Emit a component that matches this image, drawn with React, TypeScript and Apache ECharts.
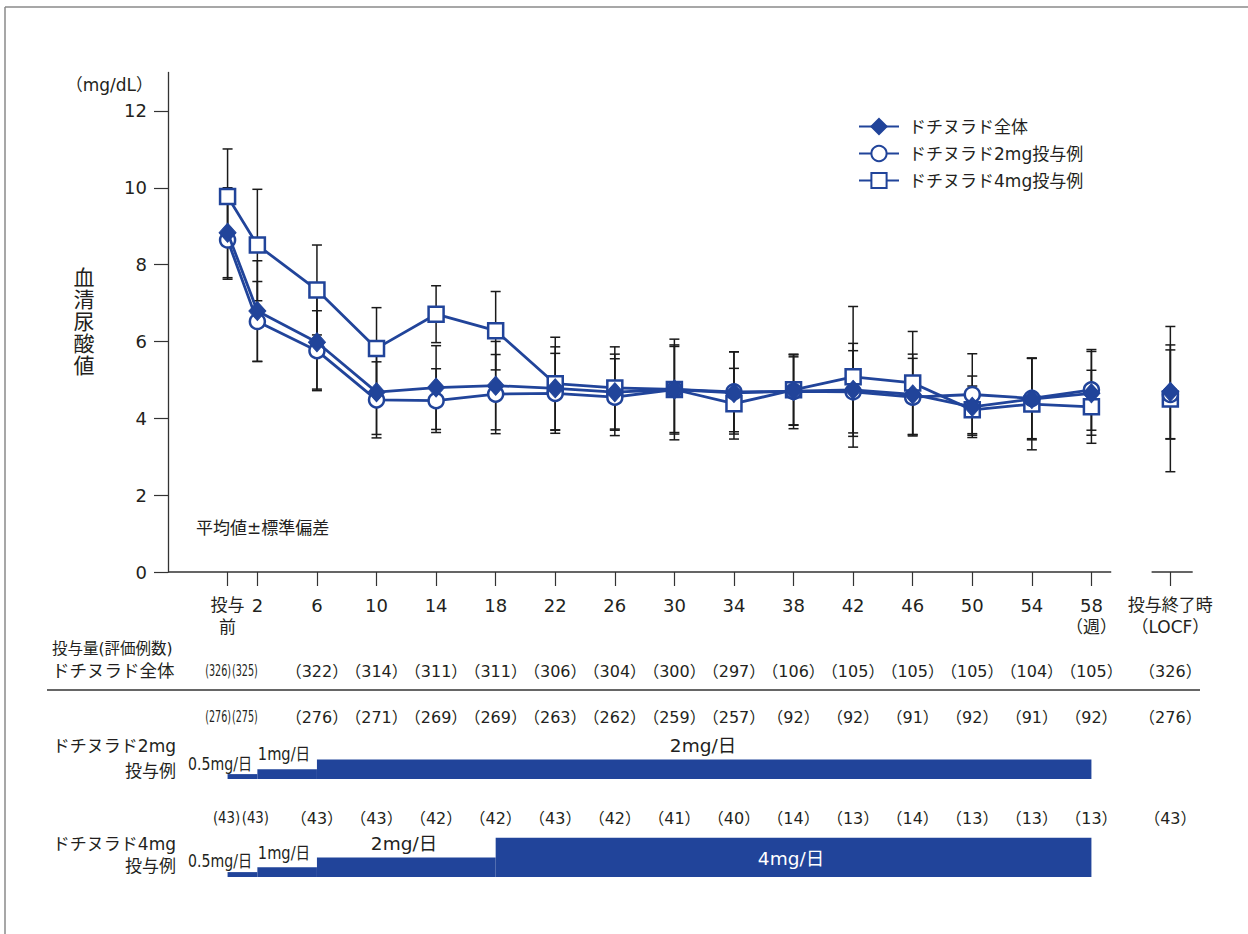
import React, { useEffect, useRef } from 'react';
import * as echarts from 'echarts';

// ---- palette & fonts ----
const BLUE = '#21449a';
const INK = '#231f20';
const AXIS = '#333333';
const FONT = "'DejaVu Sans', 'Noto Sans CJK JP', sans-serif";

// ---- time points (weeks); the last one is the end-of-treatment (LOCF) column ----
const weeks = [0, 2, 6, 10, 14, 18, 22, 26, 30, 34, 38, 42, 46, 50, 54, 58];
const locfWeek = 63.3;
const positions = [...weeks, locfWeek];
const tickLabels = [
  '投与\n前', '2', '6', '10', '14', '18', '22', '26', '30', '34', '38', '42', '46', '50', '54', '58\n（週）',
  '投与終了時\n（LOCF）',
];

// ---- serum uric acid, mean and SD (mg/dL) ----
const seriesNames = ['ドチヌラド全体', 'ドチヌラド2mg投与例', 'ドチヌラド4mg投与例'];
const allMean = [8.83, 6.79, 5.98, 4.68, 4.8, 4.85, 4.78, 4.68, 4.75, 4.66, 4.71, 4.74, 4.62, 4.3, 4.5, 4.65, 4.69];
const allSd = [1.17, 1.31, 1.22, 1.1, 1.09, 1.15, 1.08, 0.99, 1.16, 1.07, 0.89, 1.21, 1.05, 0.8, 1.06, 1.09, 1.22];
const mg2Mean = [8.64, 6.52, 5.76, 4.48, 4.46, 4.63, 4.65, 4.55, 4.75, 4.69, 4.7, 4.69, 4.55, 4.62, 4.52, 4.74, 4.62];
const mg2Sd = [1.02, 1.04, 1.04, 0.99, 0.83, 1.03, 1.04, 1.0, 1.12, 1.04, 0.97, 1.07, 1.01, 1.06, 1.05, 1.05, 1.16];
const mg4Mean = [9.77, 8.51, 7.34, 5.82, 6.71, 6.28, 4.9, 4.79, 4.75, 4.38, 4.74, 5.08, 4.92, 4.22, 4.37, 4.3, 4.5];
const mg4Sd = [1.24, 1.45, 1.17, 1.06, 0.74, 1.02, 1.21, 1.07, 1.31, 0.92, 0.91, 1.83, 1.34, 0.62, 1.19, 0.95, 1.89];

// ---- number of evaluated patients ----
const allN = [326, 325, 322, 314, 311, 311, 306, 304, 300, 297, 106, 105, 105, 105, 104, 105, 326];
const mg2N = [276, 275, 276, 271, 269, 269, 263, 262, 259, 257, 92, 92, 91, 92, 91, 92, 276];
const mg4N = [43, 43, 43, 43, 42, 42, 43, 42, 41, 40, 14, 13, 14, 13, 13, 13, 43];

// ---- titration schedules: step boundaries (weeks) and daily dose (mg) ----
const mg2Steps = [0, 2, 6, 58];
const mg2Doses = [0.5, 1, 2];
const mg4Steps = [0, 2, 6, 18, 58];
const mg4Doses = [0.5, 1, 2, 4];

const X_MIN = -4;
const X_MAX = 64.8;
const GRID_LEFT = 168;
const GRID_RIGHT = 55.3;

const lineData = (mean: number[]) => {
  const pts: any[] = positions.map((x, i) => [x, mean[i]]);
  // break the line between week 58 and the LOCF column
  return [...pts.slice(0, weeks.length), [60.5, '-'], pts[weeks.length]];
};

const errData = (mean: number[], sd: number[]) =>
  positions.map((x, i) => [x, +(mean[i] - sd[i]).toFixed(2), +(mean[i] + sd[i]).toFixed(2)]);

const stepData = (steps: number[], doses: number[]) =>
  doses.map((d, i) => [steps[i], steps[i + 1], d]);

const txt = (
  text: string,
  x: number,
  y: number,
  fontSize: number,
  align: string,
  extra: any = {},
) => {
  const { fill, lineHeight, ...props } = extra;
  return {
    type: 'text',
    x,
    y,
    z: 100,
    silent: true,
    ...props,
    style: {
      text,
      fill: fill || INK,
      fontSize,
      fontFamily: FONT,
      lineHeight,
      align,
      verticalAlign: 'middle',
      textAlign: align,
      textVerticalAlign: 'middle',
    },
  };
};

const countSeries = (n: number[], rowY: number) => ({
  type: 'custom',
  xAxisIndex: 0,
  yAxisIndex: 0,
  silent: true,
  z: 5,
  clip: false,
  data: positions.map((x, i) => [x, 0, n[i], i]),
  encode: { x: 0, y: 1 },
  renderItem: (_p: any, api: any) => {
    const cx = api.coord([api.value(0), 0])[0];
    const i = api.value(3);
    const v = api.value(2);
    const early = i < 2;
    const wide = v >= 100;
    // the first two counts sit side by side in a condensed face
    const shift = !early ? 0 : wide ? (i === 0 ? -9.5 : -12.5) : i === 0 ? -1 : -2;
    return {
      type: 'text',
      x: cx + shift,
      y: rowY,
      scaleX: early ? (wide ? 0.62 : 0.86) : 1,
      style: {
        text: early ? `(${v})` : `（${v}）`,
        fill: INK,
        fontSize: early ? 15.5 : 16,
        fontFamily: FONT,
        align: 'center',
        verticalAlign: 'middle',
        textAlign: 'center',
        textVerticalAlign: 'middle',
      },
    };
  },
});

const doseSeries = (steps: number[], doses: number[], idx: number) => ({
  type: 'custom',
  xAxisIndex: idx,
  yAxisIndex: idx,
  silent: true,
  z: 2,
  data: stepData(steps, doses),
  encode: { x: [0, 1], y: 2 },
  renderItem: (_p: any, api: any) => {
    const a = api.coord([api.value(0), api.value(2)]);
    const b = api.coord([api.value(1), 0]);
    return {
      type: 'rect',
      shape: { x: a[0], y: a[1], width: b[0] - a[0], height: b[1] - a[1] },
      style: { fill: BLUE },
    };
  },
});

const labelFor = (v: number) => {
  const i = positions.findIndex((p) => Math.abs(p - v) < 1e-6);
  if (i < 0) return '';
  return tickLabels[i]
    .split('\n')
    .map((s) => (/^\d+$/.test(s) ? s : `{j|${s}}`))
    .join('\n');
};

const yTitle = ['血', '清', '尿', '酸', '値'];

export default function App() {
  const ref = useRef<HTMLDivElement>(null);

  useEffect(() => {
    if (!ref.current) return;
    const chart = echarts.init(ref.current, undefined, { renderer: 'svg' });

    const hiddenX = (gridIndex: number) => ({
      type: 'value',
      gridIndex,
      min: X_MIN,
      max: X_MAX,
      show: false,
    });
    const hiddenY = (gridIndex: number) => ({
      type: 'value',
      gridIndex,
      min: 0,
      max: 4,
      show: false,
    });

    const baseSymbolStyle = { color: '#fff', borderColor: BLUE, borderWidth: 2.5 };

    chart.setOption({
      animation: false,
      backgroundColor: '#fff',
      textStyle: { fontFamily: FONT },
      grid: [
        { left: GRID_LEFT, right: GRID_RIGHT, top: 72.5, bottom: 362 },
        { left: GRID_LEFT, right: GRID_RIGHT, top: 739.8, height: 39.2 },
        { left: GRID_LEFT, right: GRID_RIGHT, top: 837.8, height: 39.2 },
      ],
      xAxis: [
        {
          type: 'value',
          gridIndex: 0,
          min: X_MIN,
          max: X_MAX,
          axisLine: { show: false, onZero: false },
          splitLine: { show: false },
          axisTick: {
            show: true,
            customValues: positions,
            length: 14,
            lineStyle: { color: AXIS, width: 1.2 },
          },
          axisLabel: {
            customValues: positions,
            margin: 22,
            color: INK,
            fontSize: 18,
            lineHeight: 22,
            fontFamily: FONT,
            formatter: (v: number) => labelFor(v),
            rich: {
              j: { fontSize: 17, lineHeight: 22, color: INK, fontFamily: FONT },
            },
          },
        },
        hiddenX(1),
        hiddenX(2),
      ],
      yAxis: [
        {
          type: 'value',
          gridIndex: 0,
          min: 0,
          max: 13,
          interval: 1,
          axisLine: { show: true, onZero: false, lineStyle: { color: AXIS, width: 1.3 } },
          splitLine: { show: false },
          axisTick: {
            show: true,
            customValues: [0, 2, 4, 6, 8, 10, 12],
            length: 14,
            lineStyle: { color: AXIS, width: 1.2 },
          },
          axisLabel: {
            customValues: [0, 2, 4, 6, 8, 10, 12],
            margin: 21,
            color: INK,
            fontSize: 18,
            fontFamily: FONT,
          },
        },
        hiddenY(1),
        hiddenY(2),
      ],
      legend: {
        data: seriesNames,
        orient: 'vertical',
        left: 858,
        top: 117,
        padding: 0,
        itemWidth: 40,
        itemHeight: 19,
        itemGap: 8,
        textStyle: {
          color: INK,
          fontSize: 17,
          fontFamily: FONT,
          lineHeight: 19,
          padding: [0, 0, 0, 5],
        },
      },
      graphic: [
        // outer frame
        { type: 'line', silent: true, shape: { x1: 5, y1: 7, x2: 1248, y2: 7 }, style: { stroke: '#8a8a8a', lineWidth: 1.5 } },
        { type: 'line', silent: true, shape: { x1: 5, y1: 7, x2: 5, y2: 934 }, style: { stroke: '#8a8a8a', lineWidth: 1.5 } },
        txt('（mg/dL）', 153, 85, 17, 'right'),
        ...yTitle.map((c, i) => txt(c, 84, 278 + i * 22, 21, 'center', { lineHeight: 21 })),
        txt('平均値±標準偏差', 196, 528, 17, 'left'),
        txt('投与量(評価例数)', 52, 649, 15.5, 'left'),
        txt('ドチヌラド全体', 52, 671, 17.5, 'left'),
        { type: 'line', silent: true, shape: { x1: 47, y1: 690, x2: 1200, y2: 690 }, style: { stroke: AXIS, lineWidth: 1.3 } },
        txt('ドチヌラド2mg', 176, 746, 17, 'right'),
        txt('投与例', 176, 771, 17, 'right'),
        txt('ドチヌラド4mg', 176, 844, 17, 'right'),
        txt('投与例', 176, 866, 17, 'right'),
        // dose annotations
        txt('0.5mg/日', 220, 765, 17, 'center', { scaleX: 0.83 }),
        txt('1mg/日', 284, 754, 17, 'center', { scaleX: 0.86 }),
        txt('2mg/日', 703, 745, 18.5, 'center'),
        txt('0.5mg/日', 220, 862, 17, 'center', { scaleX: 0.83 }),
        txt('1mg/日', 284, 853, 17, 'center', { scaleX: 0.86 }),
        txt('2mg/日', 404, 843, 18.5, 'center'),
        txt('4mg/日', 791, 858, 18.5, 'center', { fill: '#ffffff' }),
      ],
      series: [
        // x axis baseline, interrupted before the LOCF column
        {
          type: 'line',
          xAxisIndex: 0,
          yAxisIndex: 0,
          silent: true,
          symbol: 'none',
          clip: false,
          z: 1,
          lineStyle: { color: AXIS, width: 1.3 },
          data: [[X_MIN, 0], [59.33, 0], [60.5, '-'], [62.04, 0], [X_MAX, 0]],
        },
        // ±SD whiskers
        {
          type: 'custom',
          xAxisIndex: 0,
          yAxisIndex: 0,
          silent: true,
          z: 1,
          data: [
            ...errData(mg4Mean, mg4Sd),
            ...errData(mg2Mean, mg2Sd),
            ...errData(allMean, allSd),
          ],
          encode: { x: 0, y: [1, 2] },
          renderItem: (_p: any, api: any) => {
            const top = api.coord([api.value(0), api.value(2)]);
            const bot = api.coord([api.value(0), api.value(1)]);
            const w = 5;
            const st = { stroke: '#1a1a1a', lineWidth: 1.5 };
            return {
              type: 'group',
              children: [
                { type: 'line', shape: { x1: top[0], y1: top[1], x2: bot[0], y2: bot[1] }, style: st },
                { type: 'line', shape: { x1: top[0] - w, y1: top[1], x2: top[0] + w, y2: top[1] }, style: st },
                { type: 'line', shape: { x1: bot[0] - w, y1: bot[1], x2: bot[0] + w, y2: bot[1] }, style: st },
              ],
            };
          },
        },
        {
          name: seriesNames[2],
          type: 'line',
          xAxisIndex: 0,
          yAxisIndex: 0,
          z: 2,
          color: BLUE,
          symbol: 'rect',
          symbolSize: 15,
          lineStyle: { color: BLUE, width: 2.8 },
          itemStyle: baseSymbolStyle,
          data: lineData(mg4Mean),
        },
        {
          name: seriesNames[1],
          type: 'line',
          xAxisIndex: 0,
          yAxisIndex: 0,
          z: 3,
          color: BLUE,
          symbol: 'circle',
          symbolSize: 15,
          lineStyle: { color: BLUE, width: 2.8 },
          itemStyle: baseSymbolStyle,
          data: lineData(mg2Mean),
        },
        {
          name: seriesNames[0],
          type: 'line',
          xAxisIndex: 0,
          yAxisIndex: 0,
          z: 4,
          color: BLUE,
          symbol: 'diamond',
          symbolSize: [17, 19],
          lineStyle: { color: BLUE, width: 2.8 },
          itemStyle: { color: BLUE, borderColor: BLUE, borderWidth: 1 },
          data: lineData(allMean),
        },
        countSeries(allN, 671),
        countSeries(mg2N, 717),
        countSeries(mg4N, 818),
        doseSeries(mg2Steps, mg2Doses, 1),
        doseSeries(mg4Steps, mg4Doses, 2),
      ],
    });

    return () => chart.dispose();
  }, []);

  return (
    <div
      ref={ref}
      style={{ position: 'absolute', left: 0, top: 0, width: 1248, height: 934, background: '#fff' }}
    />
  );
}
